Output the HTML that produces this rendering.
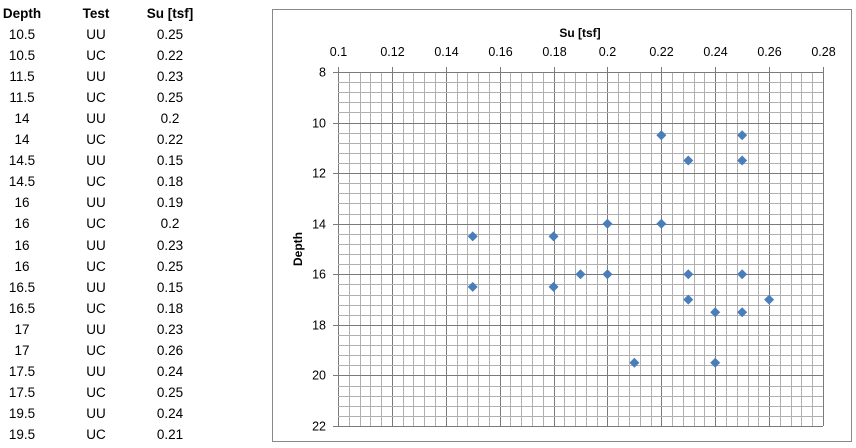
<!DOCTYPE html>
<html><head><meta charset="utf-8"><style>
body{margin:0;width:856px;height:448px;background:#fff;font-family:"Liberation Sans",Calibri,sans-serif;overflow:hidden;position:relative}
#tbl{position:absolute;left:0;top:0}
.c{position:absolute;font-size:13.5px;color:#000;text-align:center;width:70px}
</style></head><body>
<div id="tbl"></div>
<svg id="chart" width="856" height="448" style="position:absolute;left:0;top:0"></svg>
<script>
const depths=[10.5,10.5,11.5,11.5,14,14,14.5,14.5,16,16,16,16,16.5,16.5,17,17,17.5,17.5,19.5,19.5];
const tests=["UU","UC","UU","UC","UU","UC","UU","UC","UU","UC","UU","UC","UU","UC","UU","UC","UU","UC","UU","UC"];
const suVals=[0.25,0.22,0.23,0.25,0.2,0.22,0.15,0.18,0.19,0.2,0.23,0.25,0.15,0.18,0.23,0.26,0.24,0.25,0.24,0.21];
const xTicks=[0.1,0.12,0.14,0.16,0.18,0.2,0.22,0.24,0.26,0.28];
const yTicks=[8,10,12,14,16,18,20,22];

const tbl=document.getElementById('tbl');
function cell(txt,x,y,bold,name){
  const d=document.createElement('div');d.className='c';
  
  
  d.style.left=(x-35)+'px';d.style.top=(y-8)+'px';
  if(bold)d.style.fontWeight='bold';d.textContent=txt;tbl.appendChild(d);
}
cell('Depth',22,14,true,'header-depth');cell('Test',96,14,true,'header-test');cell('Su [tsf]',170,14,true,'header-su');
depths.forEach((v,i)=>{const y=35+i*21.05;
  cell(String(v),22,y,false,'depth-cell');cell(tests[i],96,y,false,'test-cell');cell(String(suVals[i]),170,y,false,'su-cell');});

const NS='http://www.w3.org/2000/svg';const svg=document.getElementById('chart');
function el(t,a,name){const e=document.createElementNS(NS,t);for(const k in a)e.setAttribute(k,a[k]);
  
  
  svg.appendChild(e);return e;}
const L=338,R=823,T=72,B=426;
const sx=v=>L+(v-0.1)/(0.28-0.1)*(R-L);
const sy=v=>T+(v-8)/(22-8)*(B-T);
const px=v=>Math.round(v)+0.5;
el('rect',{x:272.5,y:9.5,width:579,height:432,fill:'#fff',stroke:'#888'},'chart-frame');
for(let i=0;i<=45;i++){const v=0.1+i*0.004,x=px(sx(v));
  el('line',{x1:x,x2:x,y1:T,y2:B,stroke:i%5?'#b0b0b0':'#7a7a7a','stroke-width':1},'x-gridline');}
for(let i=0;i<=35;i++){const v=8+i*0.4,y=px(sy(v));
  el('line',{x1:L,x2:R,y1:y,y2:y,stroke:i%5?'#b0b0b0':'#7a7a7a','stroke-width':1},'y-gridline');}
xTicks.forEach(v=>{const x=px(sx(v));el('line',{x1:x,x2:x,y1:T-5,y2:T,stroke:'#7a7a7a'},'x-tick');
  const t=el('text',{x:x,y:T-16,'text-anchor':'middle','font-size':12.5,fill:'#000'},'x-tick-label');t.textContent=String(v);});
yTicks.forEach(v=>{const y=px(sy(v));el('line',{x1:L-5,x2:L,y1:y,y2:y,stroke:'#7a7a7a'},'y-tick');
  const t=el('text',{x:L-12,y:y+4,'text-anchor':'end','font-size':12.5,fill:'#000'},'y-tick-label');t.textContent=String(v);});
const xt=el('text',{x:580,y:37,'text-anchor':'middle','font-size':12,'font-weight':'bold'},'x-axis-title');xt.textContent='Su [tsf]';
const yt=el('text',{x:0,y:0,'text-anchor':'middle','font-size':12,'font-weight':'bold',transform:'translate(302,249) rotate(-90)'},'y-axis-title');yt.textContent='Depth';
suVals.forEach((v,i)=>{const x=sx(v),y=sy(depths[i]);
  el('polygon',{points:`${x},${y-5} ${x+5},${y} ${x},${y+5} ${x-5},${y}`,fill:'#4a7ebb'},'data-point');});
</script>
</body></html>
